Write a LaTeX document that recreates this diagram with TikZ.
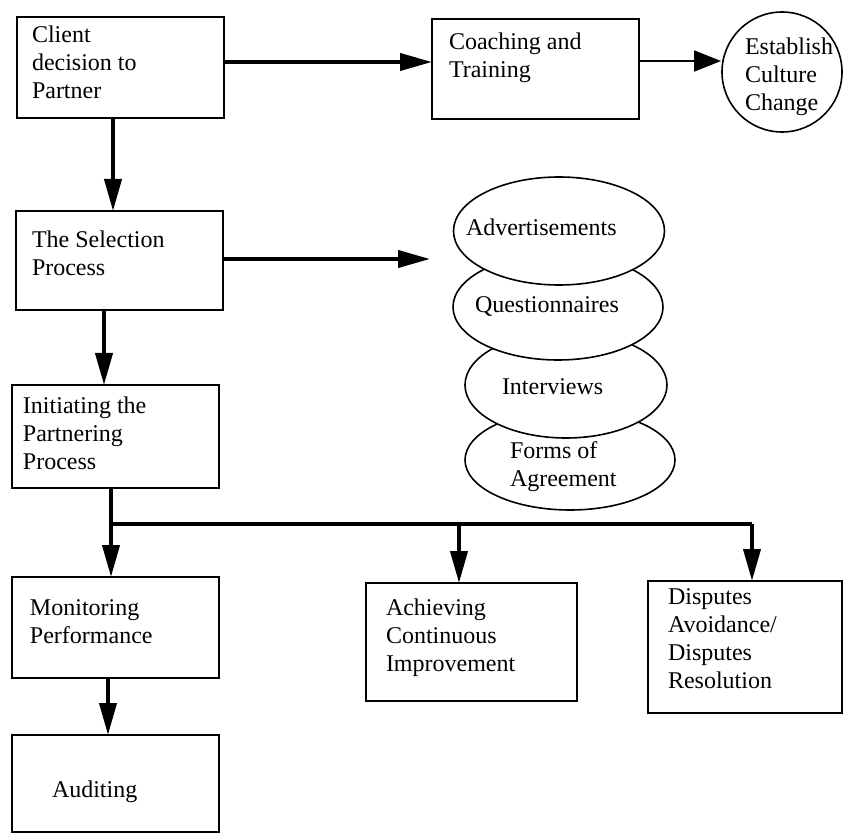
\documentclass[tikz,border=0pt]{standalone}
\usepackage{fontspec}
\setmainfont{Liberation Serif}
\usetikzlibrary{arrows.meta,shapes.geometric}
\begin{document}
\begin{tikzpicture}[x=1pt,y=-1pt,
  box/.style={draw, line width=1.6pt, inner sep=0pt, outer sep=0pt, anchor=north west},
  txt/.style={anchor=base west, align=left, inner sep=0pt, outer sep=0pt, font=\fontsize{24}{28}\selectfont},
  oval/.style={draw, fill=white, line width=1.6pt, ellipse, inner sep=0pt, outer sep=0pt},
  bigarrow/.style={line width=4pt, -{Triangle[length=32pt,width=17pt]}},
  thinarrow/.style={line width=2pt, -{Triangle[length=27pt,width=21pt]}},
  link/.style={line width=4pt}]
\useasboundingbox (0,0) rectangle (844,834);
% boxes (text anchored at the baseline of its last line)
\node[box, minimum width=207pt, minimum height=101pt] (client) at (17,17) {};
\node[txt] (clientT) at (32,99) {Client\\decision to\\Partner};
\node[box, minimum width=207pt, minimum height=100pt] (coach) at (432,19) {};
\node[txt] (coachT) at (449,78) {Coaching and\\Training};
\node[draw, circle, line width=1.6pt, minimum size=120pt, inner sep=0pt, outer sep=0pt] (circ) at (782,72) {};
\node[txt] (circT) at (745,111) {Establish\\Culture\\Change};
\node[box, minimum width=207pt, minimum height=99pt] (sel) at (16,211) {};
\node[txt] (selT) at (32,276) {The Selection\\Process};
\node[box, minimum width=207pt, minimum height=103pt] (init) at (12,385) {};
\node[txt] (initT) at (23,469) {Initiating the\\Partnering\\Process};
% ellipses (lowest first)
\node[oval, minimum width=210pt, minimum height=100pt] (forms) at (570,460) {};
\node[txt] (formsT) at (510,486) {Forms of\\Agreement};
\node[oval, minimum width=202pt, minimum height=106pt] (inter) at (566,385) {};
\node[txt] (interT) at (502,395) {Interviews};
\node[oval, minimum width=210pt, minimum height=106pt] (quest) at (558,307) {};
\node[txt] (questT) at (475,313) {Questionnaires};
\node[oval, minimum width=211pt, minimum height=108pt] (adv) at (559,231) {};
\node[txt] (advT) at (466,236) {Advertisements};
% bottom boxes
\node[box, minimum width=207pt, minimum height=101pt] (mon) at (12,577) {};
\node[txt] (monT) at (30,643) {Monitoring\\Performance};
\node[box, minimum width=207pt, minimum height=97pt] (aud) at (12,735) {};
\node[txt] (audT) at (52,797) {Auditing};
\node[box, minimum width=211pt, minimum height=118pt] (ach) at (366,583) {};
\node[txt] (achT) at (386,671) {Achieving\\Continuous\\Improvement};
\node[box, minimum width=194pt, minimum height=132pt] (dis) at (648,581) {};
\node[txt] (disT) at (668,688) {Disputes\\Avoidance/\\Disputes\\Resolution};
% connectors
\coordinate (selTip) at (430,259);
\coordinate (brL) at (111,524);
\coordinate (brM) at (459,524);
\coordinate (brR) at (752,524);
\draw[bigarrow] (client.east |- 0,62) -- (coach.west |- 0,62);
\draw[thinarrow] (coach.east |- 0,61) -- (721,61);
\draw[bigarrow] (client.south -| 113,0) -- (sel.north -| 113,0);
\draw[bigarrow] (sel.east |- selTip) -- (selTip);
\draw[bigarrow] (sel.south -| 104,0) -- (init.north -| 104,0);
\draw[bigarrow] (init.south -| brL) -- (mon.north -| brL);
\draw[link] (brL) -- (brR);
\draw[bigarrow] (brM) -- (ach.north -| brM);
\draw[bigarrow] (brR) -- (dis.north -| brR);
\draw[bigarrow] (mon.south -| 108,0) -- (aud.north -| 108,0);
\end{tikzpicture}
\end{document}
